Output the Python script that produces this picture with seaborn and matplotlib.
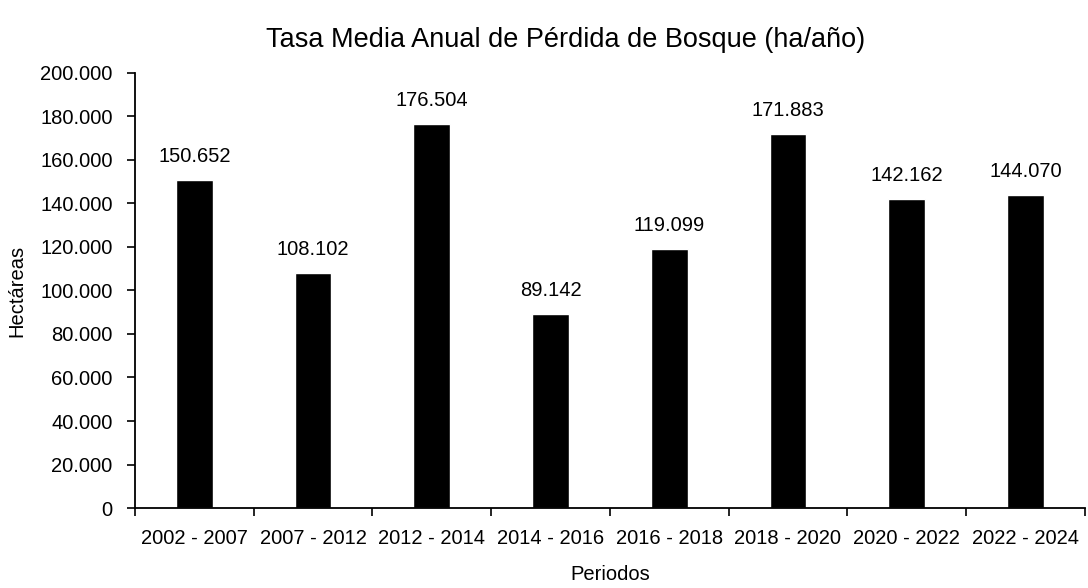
import matplotlib
matplotlib.use('Agg')
import matplotlib.pyplot as plt
import matplotlib.ticker as mticker
import seaborn as sns
import pandas as pd

periodos = ['2002 - 2007', '2007 - 2012', '2012 - 2014', '2014 - 2016',
            '2016 - 2018', '2018 - 2020', '2020 - 2022', '2022 - 2024']
perdida = [150652, 108102, 176504, 89142, 119099, 171883, 142162, 144070]

df = pd.DataFrame({'periodo': periodos, 'ha': perdida})

sns.set_style('white')
plt.rcParams['font.family'] = ['Liberation Sans', 'DejaVu Sans']
plt.rcParams['text.color'] = 'black'
plt.rcParams['axes.labelcolor'] = 'black'
plt.rcParams['xtick.color'] = 'black'
plt.rcParams['ytick.color'] = 'black'

FS = 14.5


def miles(v, pos=None):
    return f'{int(v):,}'.replace(',', '.')


fig = plt.figure(figsize=(10.88, 5.88), dpi=100)
ax = fig.add_axes([0.124, 0.136, 0.873, 0.74])
sns.barplot(data=df, x='periodo', y='ha', color='black', width=0.31,
            saturation=1, ax=ax)

for i, v in enumerate(perdida):
    ax.annotate(miles(v), (i, v), xytext=(0, 10), textcoords='offset points',
                ha='center', va='bottom', fontsize=FS)

ax.set_ylim(0, 200000)
ax.set_xlim(-0.5, len(periodos) - 0.5)
ax.yaxis.set_major_locator(mticker.MultipleLocator(20000))
ax.yaxis.set_major_formatter(mticker.FuncFormatter(miles))

# Excel-like ticks between categories
ax.set_xticks([i - 0.5 for i in range(len(periodos) + 1)])
ax.set_xticklabels([])
ax.set_xticks(range(len(periodos)), minor=True)
ax.set_xticklabels(periodos, minor=True, fontsize=FS)
ax.tick_params(axis='x', which='major', bottom=True, length=6, width=1.2,
               direction='out', color='black')
ax.tick_params(axis='x', which='minor', bottom=False, length=0, pad=15)
ax.tick_params(axis='y', left=True, length=6, width=1.2, direction='out',
               color='black', labelsize=FS, pad=10)

for s in ['top', 'right']:
    ax.spines[s].set_visible(False)
for s in ['left', 'bottom']:
    ax.spines[s].set_color('black')
    ax.spines[s].set_linewidth(1.3)

ax.set_xlabel('Periodos', fontsize=FS, labelpad=12)
ax.set_ylabel('Hectáreas', fontsize=FS, labelpad=10)
fig.text(0.52, 0.932, 'Tasa Media Anual de Pérdida de Bosque (ha/año)',
         fontsize=19.5, ha='center', va='center')

fig.savefig('out.png', dpi=100)
